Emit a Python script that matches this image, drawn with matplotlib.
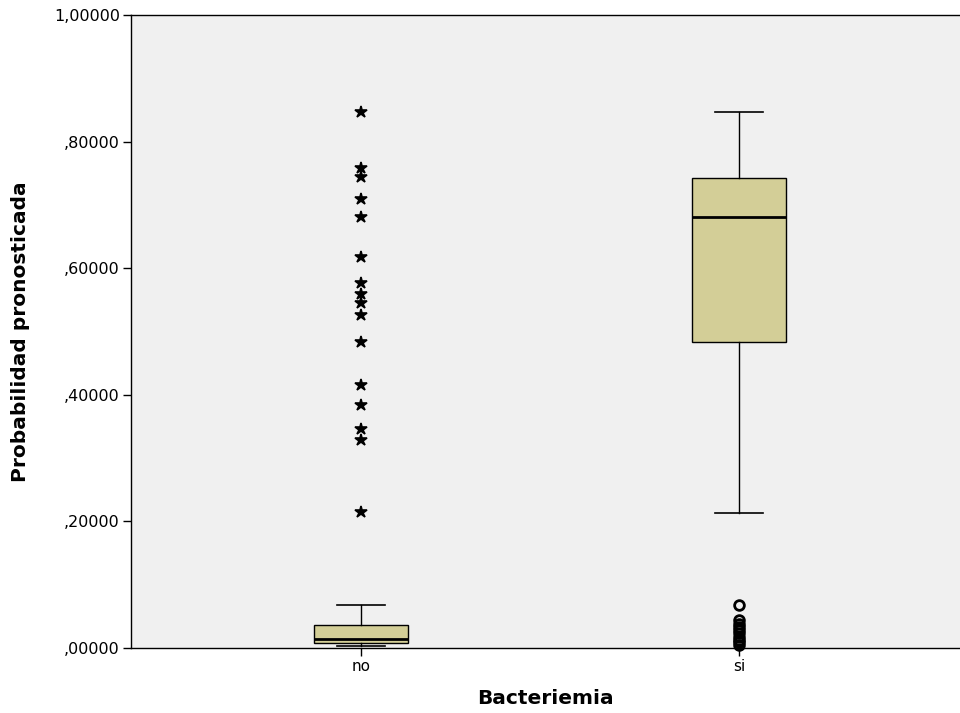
import numpy as np
import matplotlib.pyplot as plt

categories = ["no", "si"]

# box statistics
q1 = [0.0074, 0.4834]
median = [0.0137, 0.6810]
q3 = [0.0363, 0.7431]
whis_lo = [0.0036, 0.2133]
whis_hi = [0.0679, 0.8468]

# extreme values (stars) for "no"
extremes_no = [0.8473, 0.7583, 0.7436, 0.7093, 0.6814, 0.6172, 0.5771, 0.5592,
               0.5455, 0.5256, 0.4829, 0.4160, 0.3839, 0.3455, 0.3286, 0.2144]
# outliers (circles) for "si"
outliers_si = [0.0679, 0.0440, 0.0380, 0.0330, 0.0280, 0.0230, 0.0180,
               0.0130, 0.0090, 0.0050]

box_color = "#d3ce97"
bg_color = "#f0f0f0"

fig = plt.figure(figsize=(9.6, 7.13), dpi=100)
ax = fig.add_axes([131 / 960, 1 - 648 / 713, 829 / 960, 633 / 713])
ax.set_facecolor(bg_color)

stats = []
for i in range(len(categories)):
    stats.append(dict(med=median[i], q1=q1[i], q3=q3[i],
                      whislo=whis_lo[i], whishi=whis_hi[i], fliers=[]))

ax.bxp(stats, positions=[0, 1], widths=0.25, patch_artist=True,
       showfliers=False,
       boxprops=dict(facecolor=box_color, edgecolor="black", linewidth=1),
       medianprops=dict(color="black", linewidth=2),
       whiskerprops=dict(color="black", linewidth=1),
       capprops=dict(color="black", linewidth=1.2),
       capwidths=0.125)

ax.plot([0] * len(extremes_no), extremes_no, linestyle="none", marker="*",
        color="black", markersize=9, markeredgewidth=1.2, clip_on=False)
ax.plot([1] * len(outliers_si), outliers_si, linestyle="none", marker="o",
        markerfacecolor="none", markeredgecolor="black", markersize=7,
        markeredgewidth=2, clip_on=False)

ax.set_xlim(-0.6085, 1.5847)
ax.set_ylim(0, 1)
ax.set_xticks([0, 1])
ax.set_xticklabels(categories, fontsize=11)
yt = np.arange(0, 1.01, 0.2)
ax.set_yticks(yt)
ax.set_yticklabels([("%.5f" % v).replace(".", ",").lstrip("0") if v < 1
                    else ("%.5f" % v).replace(".", ",") for v in yt], fontsize=11.5)
ax.tick_params(direction="out", length=6, width=1, pad=2)

ax.spines["right"].set_visible(False)
for s in ["left", "top", "bottom"]:
    ax.spines[s].set_linewidth(1)

ax.set_ylabel("Probabilidad pronosticada", fontsize=14.5, fontweight="bold", labelpad=17)
ax.set_xlabel("Bacteriemia", fontsize=14.5, fontweight="bold", labelpad=11)

fig.savefig("out.png", dpi=100)
